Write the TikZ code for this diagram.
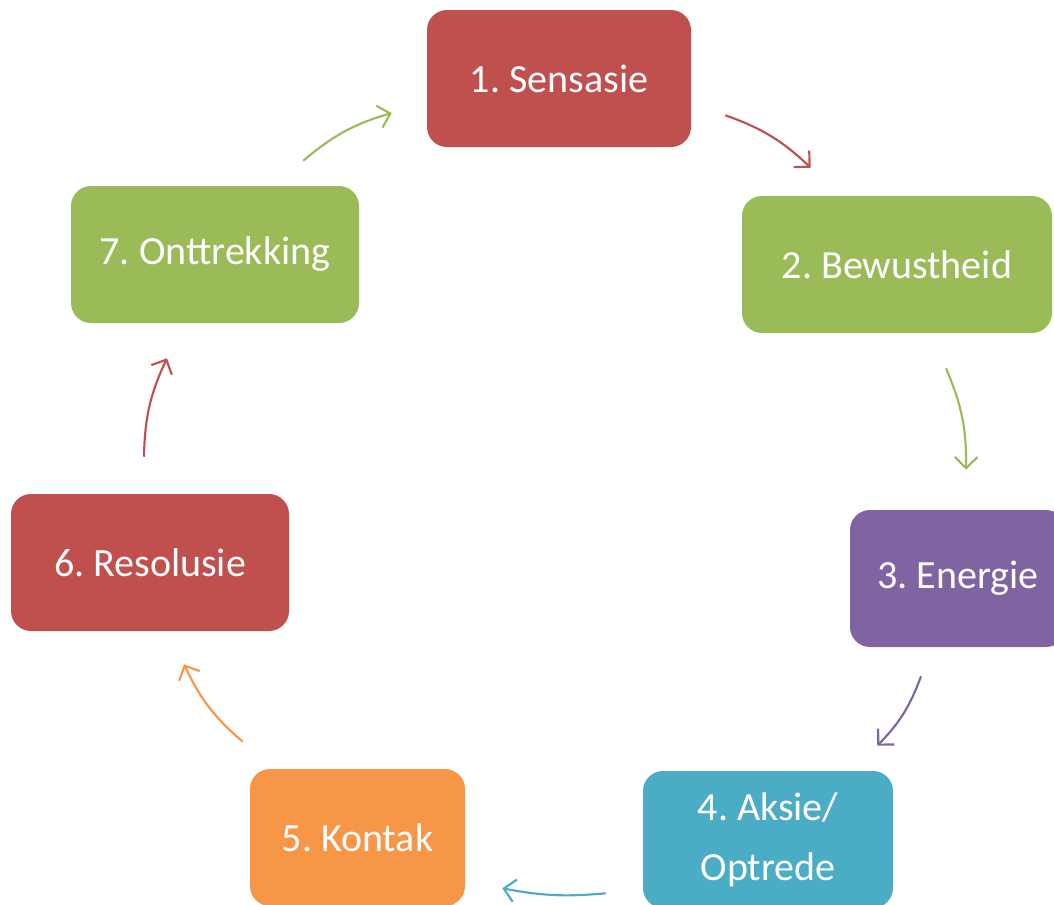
\documentclass[tikz,border=0pt]{standalone}
\usepackage{fontspec}
\setmainfont{Carlito}
\frenchspacing
\usetikzlibrary{arrows.meta}
\definecolor{cred}{HTML}{C0504D}
\definecolor{cgreen}{HTML}{9BBB59}
\definecolor{cpurple}{HTML}{8064A2}
\definecolor{ccyan}{HTML}{4BACC6}
\definecolor{corange}{HTML}{F79646}
\begin{document}
\begin{tikzpicture}[x=0.75pt,y=-0.75pt,
  stagebox/.style={rounded corners=15pt, minimum height=102.75pt, inner sep=0pt,
    text=white, font=\fontsize{30}{45}\selectfont\frenchspacing, align=center},
  arr/.style={line width=1.6pt, -{Straight Barb[length=8.5pt,width=17pt,line width=1.6pt]}}]
\useasboundingbox (0,0) rectangle (1054,904);
\node[stagebox, fill=cred, minimum width=198pt] (n1) at (559,78.5) {1. Sensasie};
\node[stagebox, fill=cgreen, minimum width=232.5pt] (n2) at (897,264.5) {2. Bewustheid};
\node[stagebox, fill=cpurple, minimum width=162pt] (n3) at (958,578.5) {3. Energie};
\node[stagebox, fill=ccyan, minimum width=187.5pt] (n4) at (768,839.5) {4. Aksie/\\Optrede};
\node[stagebox, fill=corange, minimum width=161.25pt] (n5) at (357.5,837.5) {5. Kontak};
\node[stagebox, fill=cred, minimum width=208.5pt] (n6) at (150,562.5) {6. Resolusie};
\node[stagebox, fill=cgreen, minimum width=216pt] (n7) at (215,254.5) {7. Onttrekking};
\draw[arr, cred] ([shift={(34,-32)}]n1.south east) to[bend left=12] ([shift={(69,-28)}]n2.north west);
\draw[arr, cgreen] ([shift={(49,35)}]n2.south) to[bend left=12] ([shift={(8,-40)}]n3.north);
\draw[arr, cpurple] ([shift={(-37,29)}]n3.south) to[bend left=12] ([shift={(-16,-25)}]n4.north east);
\draw[arr, ccyan] ([shift={(-37,-15)}]n4.south west) to[bend left=8] ([shift={(37,-18)}]n5.south east);
\draw[arr, corange] ([shift={(-7,-27)}]n5.north west) to[bend left=12] ([shift={(34,33)}]n6.south);
\draw[arr, cred] ([shift={(-6,-37)}]n6.north) to[bend left=12] ([shift={(-48,35)}]n7.south);
\draw[arr, cgreen] ([shift={(-56,-25)}]n7.north east) to[bend left=12] ([shift={(-35,34.5)}]n1.west);
\end{tikzpicture}
\end{document}
